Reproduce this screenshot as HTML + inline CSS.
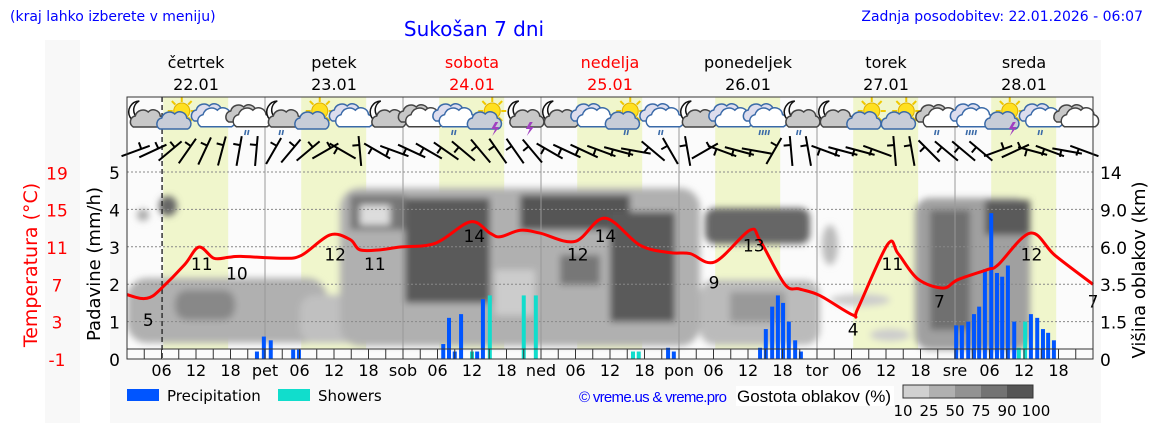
<!DOCTYPE html>
<html><head><meta charset="utf-8">
<style>
html,body{margin:0;padding:0;background:#fff;}
svg{display:block;font-family:"DejaVu Sans",sans-serif;}
</style></head>
<body>
<svg id="chart" width="1152" height="443" viewBox="0 0 1152 443" xmlns="http://www.w3.org/2000/svg">
<defs>
<filter id="blur" x="-20%" y="-20%" width="140%" height="140%"><feGaussianBlur stdDeviation="3.5"/></filter>
<clipPath id="plotclip"><rect x="127" y="172" width="966" height="187"/></clipPath>
</defs>
<rect x="110" y="40" width="991" height="383" fill="#f8f8f8"/>
<rect x="45" y="40" width="35" height="383" fill="#f8f8f8"/>
<text x="10" y="21" font-size="14" fill="#0000ff">(kraj lahko izberete v meniju)</text>
<text x="474" y="36" font-size="20" fill="#0000ff" text-anchor="middle">Sukošan 7 dni</text>
<text x="1143" y="21" font-size="14" fill="#0000ff" text-anchor="end">Zadnja posodobitev: 22.01.2026 - 06:07</text>
<rect x="127" y="97" width="966" height="262" fill="#fbfbfb"/>
<g id="bands"></g>
<g id="clouds" clip-path="url(#plotclip)">
 <g filter="url(#blur)">
  <rect x="127" y="278" width="200" height="65" rx="20" fill="#b0b0b0"/>
  <rect x="300" y="295" width="110" height="48" rx="15" fill="#c0c0c0"/>
  <rect x="175" y="290" width="60" height="30" rx="12" fill="#888"/>
  <rect x="340" y="188" width="360" height="158" rx="20" fill="#b0b0b0"/>
  <rect x="350" y="195" width="55" height="35" fill="#777"/>
  <rect x="360" y="205" width="30" height="20" fill="#ddd"/>
  <rect x="405" y="198" width="85" height="105" fill="#5a5a5a"/>
  <rect x="520" y="195" width="110" height="35" fill="#555"/>
  <rect x="610" y="212" width="65" height="110" fill="#5a5a5a"/>
  <rect x="560" y="255" width="40" height="30" fill="#777"/>
  <rect x="495" y="270" width="40" height="45" fill="#ccc"/>
  <rect x="705" y="208" width="105" height="36" rx="10" fill="#666"/>
  <rect x="700" y="280" width="120" height="65" rx="15" fill="#bbb"/>
  <rect x="730" y="292" width="55" height="30" fill="#999"/>
  <rect x="915" y="198" width="115" height="152" rx="15" fill="#a0a0a0"/>
  <rect x="930" y="210" width="40" height="120" fill="#707070"/>
  <rect x="985" y="200" width="45" height="35" fill="#5a5a5a"/>
  <ellipse cx="860" cy="300" rx="30" ry="6" fill="#ccc"/>
  <ellipse cx="830" cy="245" rx="8" ry="20" fill="#bbb"/>
  <ellipse cx="890" cy="335" rx="20" ry="6" fill="#ccc"/>
  <ellipse cx="168" cy="206" rx="9" ry="10" fill="#666"/>
  <ellipse cx="143" cy="215" rx="6" ry="6" fill="#aaa"/>
 </g>
</g>
<g id="grid"></g>
<g id="icons"></g>
<g id="barbs"></g>
<g id="bars"></g>
<g id="temp"></g>
<rect x="127" y="97" width="966" height="262" fill="none" stroke="#333" stroke-width="1"/>
<line x1="127" y1="349" x2="1093" y2="349" stroke="#333" stroke-width="1"/>
<g id="axes"></g>
<text transform="translate(37,265) rotate(-90)" font-size="19" fill="#ff0000" text-anchor="middle">Temperatura (°C)</text>
<text transform="translate(100,264) rotate(-90)" font-size="18" fill="#000" text-anchor="middle">Padavine (mm/h)</text>
<text transform="translate(1145,270) rotate(-90)" font-size="18" fill="#000" text-anchor="middle">Višina oblakov (km)</text>
<rect x="127" y="389" width="32" height="12" fill="#0055ff"/>
<text x="167" y="401" font-size="15">Precipitation</text>
<rect x="278" y="389" width="32" height="12" fill="#11ddcc"/>
<text x="318" y="401" font-size="15">Showers</text>
<text x="579" y="402" font-size="15" fill="#0000ff" font-family="Liberation Sans" textLength="148">© vreme.us &amp; vreme.pro</text>
<rect x="736" y="386" width="158" height="20" fill="#fff"/>
<text x="737" y="402" font-size="17" font-family="Liberation Sans">Gostota oblakov (%)</text>
<g id="colorbar"></g>
</svg>
<script>
const NS="http://www.w3.org/2000/svg";
const dayNames=["četrtek","petek","sobota","nedelja","ponedeljek","torek","sreda"];
const dayDates=["22.01","23.01","24.01","25.01","26.01","27.01","28.01"];
const dayAbbr=["pet","sob","ned","pon","tor","sre"];
const tempTicks=[19,15,11,7,3,-1];
const precipTicks=[0,1,2,3,4,5];
const heightTicks=["0","1.5","3.5","6.0","9.0","14"];
const tempHours=[0,2.3,4,5.7,10,12.5,15.1,17.7,19.8,26.8,30.3,35.3,38.8,40.5,44,47.5,53.6,59.7,63.1,64.9,68.4,71.8,77.9,83.1,89.2,94.4,97.9,102.2,108.3,110.1,114.4,117,120.5,126.3,127.1,132.3,134.1,137.5,141.9,144.5,149.7,151.5,157.1,161.4,168];
const tempValues=[5.9,5.5,5.6,6.4,9.1,11,9.8,9.9,10,9.8,10.1,12.3,11.8,10.7,10.7,11,11.4,13.7,12.5,12.1,12.8,12.5,11.6,14.1,11.2,10.4,10.3,9.4,12.8,11.7,7,6.5,5.8,3.7,4.4,11.3,10.3,7.6,6.6,7.5,8.6,9.1,12.5,10.1,7];
const tempLabelHours=[3.7,13,19.1,36.2,43.1,60.4,78.4,83.2,102.1,109,126.3,133.1,141.3,157.3,168];
const tempLabels=["5","11","10","12","11","14","12","14","9","13","4","11","7","12","7"];
const precipHours=[22.6,23.8,25,28.9,29.9,55,56,57,58.1,60.9,61.9,94.1,95.1,110.1,111.1,112.2,113.2,114.1,115.1,116.2,117.2,144.2,145.2,146.3,147.3,148.2,149.2,150.3,151.3,152.2,153.2,154.3,157.2,158.3,159.3,160.2,161.2];
const precipValues=[0.2,0.6,0.5,0.25,0.25,0.4,1.1,0.2,1.2,0.2,1.6,0.3,0.2,0.3,0.8,1.4,1.7,1.5,1.0,0.5,0.2,0.9,0.9,1.0,1.2,1.4,2.4,3.9,2.3,2.2,2.5,1.0,1.2,1.1,0.8,0.7,0.5];
const showerHours=[60,63.1,69,71.1,88,89,155.1,156.2];
const showerValues=[0.2,1.7,1.7,1.7,0.2,0.2,0.3,1.0];
const iconTypes=["mc","sc","c","cgr","mcr","sc","c","mc","cg","cr","st","mct","mc","c","scr","cr","mc","c","crh","mcr","mc","sc","sc","cgr","crh","st","cr","cg"];
const windAngles=[20,25,40,55,65,75,80,85,60,50,40,30,150,95,150,160,155,150,145,140,130,125,125,130,150,155,155,160,165,170,140,120,100,30,160,165,170,60,95,100,160,165,165,160,95,100,135,140,140,140,20,25,165,160,170,160];
const densityLabels=["10","25","50","75","90","100"];
const densityColors=["#d0d0d0","#b0b0b0","#929292","#737373","#555555"];

const X0=127,X1=1093,HOURS=168;
const xh=h=>X0+h*(X1-X0)/HOURS;
const yT=t=>359-(t+1)*9.33;
const yP=v=>359-v*37.4;
function el(tag,attrs,parent,text){const e=document.createElementNS(NS,tag);for(const k in attrs)e.setAttribute(k,attrs[k]);if(text!==undefined)e.textContent=text;parent.appendChild(e);return e;}
const G=id=>document.getElementById(id);

for(let d=0;d<7;d++){
 const b=el('rect',{x:xh(d*24+6.3),y:97,width:xh(17.6)-xh(6.3),height:252,fill:'#f0f6cc'},G('bands'));
 
 
}
for(let i=1;i<=5;i++){
 const g=el('line',{x1:X0,x2:X1,y1:yP(i),y2:yP(i),stroke:'#888','stroke-dasharray':'2,2','stroke-width':1},G('grid'));
 
 
}
for(let d=1;d<7;d++){
 const v=el('line',{x1:xh(d*24),x2:xh(d*24),y1:97,y2:359,stroke:'#999','stroke-width':1},G('grid'));
 
 
}
const now=el('line',{x1:xh(6.1),x2:xh(6.1),y1:97,y2:359,stroke:'#333','stroke-dasharray':'5,3','stroke-width':1.5},G('grid'));



const ax=G('axes');
for(let d=0;d<7;d++){
 const col=(d==2||d==3)?'#ff0000':'#000';
 const t1=el('text',{x:xh(d*24+12),y:68,'font-size':16,'text-anchor':'middle',fill:col},ax,dayNames[d]);
 
 
 const t2=el('text',{x:xh(d*24+12),y:90,'font-size':16,'text-anchor':'middle',fill:col},ax,dayDates[d]);
 
 
 for(const hh of [6,12,18]){
  const t=el('text',{x:xh(d*24+hh),y:376,'font-size':16,'text-anchor':'middle'},ax,(hh<10?'0':'')+hh);
  
  
 }
 if(d<6){
  const t=el('text',{x:xh(d*24+24),y:376,'font-size':16,'text-anchor':'middle'},ax,dayAbbr[d]);
  
  
 }
}
for(let h=3;h<HOURS;h+=3){
 const tk=el('line',{x1:xh(h),x2:xh(h),y1:349,y2:359,stroke:'#333'},ax);
 
 
}
tempTicks.forEach(t=>{
 const e=el('text',{x:57,y:yT(t)+7,'font-size':17,fill:'#ff0000','text-anchor':'middle'},ax,String(t));
 
 
});
precipTicks.forEach(v=>{
 const e=el('text',{x:120,y:yP(v)+7,'font-size':17,'text-anchor':'end'},ax,String(v));
 
 
});
heightTicks.forEach((s,i)=>{
 const e=el('text',{x:1100,y:yP(i)+7,'font-size':17},ax,s);
 
 
});

const bw=4;
precipHours.forEach((h,i)=>{
 const r=el('rect',{x:xh(h)-bw/2,y:yP(precipValues[i]),width:bw,height:359-yP(precipValues[i]),fill:'#0055ff'},G('bars'));
 
 
});
showerHours.forEach((h,i)=>{
 const r=el('rect',{x:xh(h)-bw/2,y:yP(showerValues[i]),width:bw,height:359-yP(showerValues[i]),fill:'#11ddcc'},G('bars'));
 
 
});

const pts=tempHours.map((h,i)=>[xh(h),yT(tempValues[i])]);
let d='M'+pts[0][0]+','+pts[0][1];
for(let i=0;i<pts.length-1;i++){
 const p0=pts[Math.max(i-1,0)],p1=pts[i],p2=pts[i+1],p3=pts[Math.min(i+2,pts.length-1)];
 const c1=[p1[0]+(p2[0]-p0[0])/6,p1[1]+(p2[1]-p0[1])/6],c2=[p2[0]-(p3[0]-p1[0])/6,p2[1]-(p3[1]-p1[1])/6];
 d+=' C'+c1+' '+c2+' '+p2;
}
const tl=el('path',{d:d,fill:'none',stroke:'#ff0000','stroke-width':3,'stroke-linejoin':'round'},G('temp'));


tempLabelHours.forEach((h,i)=>{
 const v=Number(tempLabels[i]);
 const e=el('text',{x:xh(h),y:yT(v)+23,'font-size':17,'text-anchor':'middle'},G('temp'),tempLabels[i]);
 
 
});

function cloud(g,cx,cy,s,fill,stroke){
 el('path',{d:`M${cx-14},${cy+7} a6 6 0 0 1 2,-11 a8 8 0 0 1 13,-4 a7 7 0 0 1 12,4 a6 6 0 0 1 1,11 z`,fill:fill,stroke:stroke,'stroke-width':1.5/s,transform:`translate(${cx} ${cy}) scale(${s}) translate(${-cx} ${-cy})`},g);
}
iconTypes.forEach((t,i)=>{
 const cx=xh(i*6+3),cy=117;
 const g=el('g',{},G('icons'));
 
 
 if(t[0]=='s'){
  for(let k=0;k<8;k++){const a=k*Math.PI/4;el('line',{x1:cx+3+Math.cos(a)*9,y1:cy-6+Math.sin(a)*9,x2:cx+3+Math.cos(a)*14,y2:cy-6+Math.sin(a)*14,stroke:'#f0c800','stroke-width':2},g);}
  el('circle',{cx:cx+3,cy:cy-6,r:8,fill:'#ffe020',stroke:'#e0b000'},g);
  cloud(g,cx-5,cy+5,1.0,'#c8cdd8','#3a6aa8');
 } else if(t[0]=='m'){
  el('path',{d:`M${cx-5},${cy-16} a11 11 0 1 0 9,18 a9 9 0 0 1 -9,-18 z`,fill:'#fff',stroke:'#111','stroke-width':1.5},g);
  cloud(g,cx+3,cy+3,1.0,'#c8c8c8','#444');
 } else if(t=='cg'||t=='cgr'){
  cloud(g,cx-5,cy-2,1.0,'#c8c8c8','#444');
  cloud(g,cx+4,cy+2,1.1,'#fff','#444');
 } else {
  cloud(g,cx-5,cy-3,1.0,'#dde','#3a6aa8');
  cloud(g,cx+3,cy+2,1.1,'#fff','#3a6aa8');
 }
 if(t.endsWith('r')||t=='crh'){
  const n=t=='crh'?4:2;
  for(let k=0;k<n;k++)el('line',{x1:cx-2+k*3-(n-2)*1.5,y1:cy+13,x2:cx-3+k*3-(n-2)*1.5,y2:cy+18,stroke:'#3a6aa8','stroke-width':1.6},g);
 }
 if(t.endsWith('t')){
  el('path',{d:`M${cx+6},${cy+5} l-4,7 h4 l-3,7 l7,-9 h-4 l3,-5 z`,fill:'#a040c0'},g);
 }
});

windAngles.forEach((a,i)=>{
 const cx=xh(i*3+1.5),cy=151,L=30,r=a*Math.PI/180;
 const dx=Math.cos(r)*L/2,dy=Math.sin(r)*L/2;
 const x1=cx-dx,y1=cy+dy,x2=cx+dx,y2=cy-dy;
 const ln=el('path',{d:`M${x1},${y1} L${x2},${y2} M${cx+dx*0.4},${cy-dy*0.4} l${-Math.sin(r)*7},${-Math.cos(r)*7}`,stroke:'#000','stroke-width':2,fill:'none'},G('barbs'));
 
 
});

densityColors.forEach((c,i)=>{
 const r=el('rect',{x:903+i*26,y:385,width:26,height:13,fill:c},G('colorbar'));
 
 
});
el('rect',{x:903,y:385,width:130,height:13,fill:'none',stroke:'#333'},G('colorbar'));
densityLabels.forEach((s,i)=>{
 const t=el('text',{x:903+i*26+(i==5?3:0),y:416,'font-size':15,'text-anchor':'middle'},G('colorbar'),s);
 
 
});
</script>
</body></html>
